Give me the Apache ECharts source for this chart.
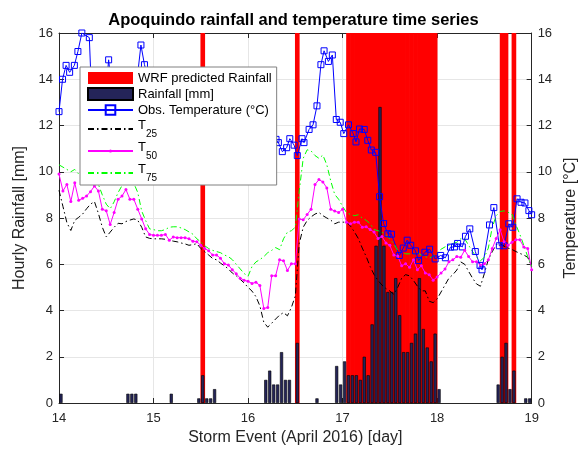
<!DOCTYPE html>
<html><head><meta charset="utf-8">
<script src="https://cdn.jsdelivr.net/npm/echarts@6/dist/echarts.min.js"></script>
<style>html,body{margin:0;padding:0;background:#fff}#c{width:587px;height:451px}</style>
</head><body><div id="c"></div>
<script>
// ---- data ----
const dayStart = 14, dayEnd = 19;
const yMax = 16;
// hourly rainfall [mm], one value per hour starting 14 April 00:00
const rainHourly = [
  0.4,0,0,0,0,0,0,0,0,0,0,0,0,0,0,0,0,0.4,0.4,0.4,0,0,0,0,
  0,0,0,0,0.4,0,0,0,0,0,0,0.2,1.2,0.2,0.2,0.6,0,0,0,0,0,0,0,0,
  0,0,0,0,1.0,1.4,0.8,0.8,2.2,1.0,1.0,0,2.6,0,0,0,0,0.2,0,0,0,0,1.6,0.8,
  1.8,1.2,1.2,1.2,1.0,2.0,1.2,3.4,6.8,12.8,6.8,4.8,4.8,5.4,3.8,2.2,2.2,2.6,3.0,5.4,3.2,2.4,1.8,3.0,
  0.6,0,0,0,0,0,0,0,0,0,0,0,0,0,0,0.8,2.0,2.6,0.6,1.4,0,0,0.2,0.2
];
// hours (from 14 April 00:00) with WRF predicted rainfall
const wrfHours = [36, 60, 73,74,75,76,77,78,79,80,81,82,83,84,85,86,87,88,89,90,91,92,93,94,95, 112, 113, 115];
// temperature quantiles, hourly from 14 April 00:00 to 19 April 00:00
const t25 = [
  9.2,8.5,7.8,7.46,7.9,8.03,8.17,8.4,8.6,8.71,8.2,7.6,7.18,7.39,7.6,7.77,7.75,7.85,7.91,7.96,7.9,7.6,7.18,7.12,
  7.1,7.1,7.1,7.08,7.04,7.0,6.97,6.92,6.88,6.82,6.85,6.89,6.68,6.54,6.4,6.25,6.19,6.05,5.93,5.8,5.62,5.5,5.35,5.19,
  5.0,4.84,4.6,4.2,3.49,3.28,3.45,3.63,3.8,3.91,3.77,4.13,4.63,6.89,7.6,7.89,8.05,8.17,8.24,8.1,8.0,7.91,7.75,7.82,
  7.82,7.82,7.65,7.4,7.11,6.7,6.33,5.9,5.55,5.3,5.1,4.95,4.84,4.7,5.0,5.4,5.55,5.5,5.3,5.05,4.85,4.85,4.4,4.34,
  4.5,4.8,5.1,5.4,5.55,5.75,6.1,6.0,5.69,5.4,5.15,5.05,5.6,6.2,6.54,6.85,6.89,6.78,6.7,6.64,6.55,6.47,6.4,6.3,
  5.9
];
const t50 = [
  9.9,9.17,9.45,8.71,9.52,8.77,8.85,8.95,9.14,9.38,9.17,8.38,8.31,7.72,8.24,8.81,8.95,9.23,8.81,8.81,8.38,7.96,7.53,7.29,
  7.25,7.25,7.25,7.29,7.04,7.18,7.15,7.15,7.15,7.1,7.0,6.97,6.82,6.68,6.58,6.4,6.4,6.26,6.02,5.97,5.76,5.59,5.4,5.31,
  5.26,5.17,5.22,5.08,4.09,4.13,5.5,5.5,6.19,6.15,5.73,6.02,6.02,7.96,7.92,8.15,8.38,9.45,9.66,9.56,9.3,8.38,8.3,8.24,
  8.38,7.82,7.75,7.82,7.82,7.6,7.62,7.5,7.39,7.11,7.2,6.92,6.82,6.4,6.36,5.93,6.02,5.87,6.19,5.76,5.93,5.62,5.55,5.31,
  5.45,5.62,5.79,6.11,6.19,6.33,6.3,6.61,6.33,6.11,6.11,5.97,6.02,6.19,6.68,7.11,7.49,6.97,6.82,6.95,7.06,7.06,6.75,6.68,
  5.76
];
const t75 = [
  10.3,10.2,10.1,10.0,10.1,9.9,9.9,9.8,9.7,9.7,9.45,9.0,8.6,8.4,8.7,9.1,9.4,9.6,9.7,9.5,9.1,8.3,7.89,7.53,
  7.5,7.45,7.45,7.5,7.6,7.62,7.62,7.57,7.5,7.4,7.3,7.1,6.97,6.8,6.68,6.6,6.55,6.5,6.4,6.33,6.2,6.0,5.8,5.6,
  5.48,5.9,6.1,6.2,6.33,6.5,6.6,6.72,6.63,7.1,7.39,7.45,7.6,9.17,10.58,10.95,10.9,10.7,10.58,10.72,10.3,9.6,9.02,8.81,
  8.5,8.24,8.15,8.1,8.14,8.0,7.9,7.75,7.5,7.45,7.39,7.25,7.1,6.89,6.6,6.5,6.45,6.45,6.45,6.5,6.4,6.33,6.26,6.35,
  6.5,6.65,6.75,6.82,6.9,6.95,7.1,7.1,6.82,6.55,6.3,6.15,6.3,6.7,7.6,8.1,8.28,8.31,8.25,8.17,7.7,7.3,6.82,6.33,
  5.9
];
// observed temperature: time (hours from 14 April 00:00) and value [°C]
const obsHour = [
  0,0.9,1.8,2.7,3.9,4.8,5.8,7.7,8.7,9.7,10.7,11.7,12.6,13.6,14.6,15.6,16.6,17.6,18.6,19.7,20.8,21.7,
  23,24,25,26,27,28,29,30,31,32,33,34,35,36,37,38,39,40,41,42,43,44,45,46,47,48,49,50,51,52,53,54,
  55.1,55.7,56.7,57.8,58.6,59.7,60.5,61.7,62.2,63.5,64.5,65.5,66.5,67.3,68.4,69.4,70.4,71.4,72.3,73.5,
  74.7,75.4,76.3,77.5,78.4,79.3,80.4,81.4,82.4,83.5,84.4,86.4,87.4,88.4,89.3,90.5,91.3,92.9,94.1,95.5,
  96.9,98.1,99.4,100.4,101.2,102.4,103.2,104.3,105.7,106.9,107.4,109.3,110.4,111.8,113.0,114.2,115.2,
  116.3,117.3,118.3,119.3,120.0
];
const obsTemp = [
  12.6,14.0,14.6,14.3,14.6,15.2,16.0,15.8,11.5,12.0,12.4,13.0,14.84,13.2,12.8,12.6,12.7,13.0,13.4,13.8,15.48,14.63,
  13.8,13.2,12.9,12.6,12.4,12.3,12.5,12.8,13.1,13.4,13.6,13.7,13.5,13.3,13.0,12.8,12.5,12.2,12.0,11.8,11.6,11.5,11.4,11.3,11.2,11.1,11.0,11.0,11.1,11.2,11.3,11.4,
  11.4,11.26,10.87,11.04,11.43,11.15,10.7,11.43,11.26,11.83,12.03,12.85,14.63,15.23,14.77,15.05,12.26,12.14,11.65,12.03,
  11.65,11.29,11.85,11.83,11.36,10.94,10.84,8.92,7.76,7.32,7.3,6.38,6.7,7.04,6.82,6.58,6.16,6.52,6.65,6.23,
  6.38,6.28,6.74,6.75,6.9,6.75,7.21,7.53,6.55,5.95,5.76,7.7,8.45,6.8,6.8,7.75,7.6,
  8.83,8.68,8.65,8.32,8.14
];
const xTicks = [14, 15, 16, 17, 18, 19];
const yTicks = [0, 2, 4, 6, 8, 10, 12, 14, 16];

// ---- build ----
const FONT = '"Liberation Sans", Arial, Helvetica, sans-serif';
const AX = '#262626';
const hours = rainHourly.map((v, i) => i);
const toDay = h => dayStart + h / 24;
const rainData = rainHourly.map(v => v > 0 ? v : '-');
const wrfData = hours.map(h => wrfHours.indexOf(h) >= 0 ? yMax : '-');
const hourlyPairs = arr => arr.map((v, i) => [toDay(i), v]);
const obsData = obsHour.map((h, i) => [toDay(h), obsTemp[i]]);
// small point marker: a dot inside a larger transparent box
const DOT = 'path://M-3,-3M3,3M1,0A1,1,0,1,1,-1,0A1,1,0,1,1,1,0Z';
const noMarker = {color: 'rgba(0,0,0,0)', borderColor: 'rgba(0,0,0,0)', borderWidth: 0};

const chart = echarts.init(document.getElementById('c'), null, {renderer: 'canvas'});
const valueY = (pos, name, gap, split) => ({
  type: 'value', position: pos, min: yTicks[0], max: yTicks[yTicks.length - 1], interval: yTicks[1] - yTicks[0],
  name: name, nameLocation: 'middle', nameGap: gap, nameRotate: 90,
  nameTextStyle: {fontFamily: FONT, fontSize: 16, color: AX},
  axisLine: {show: true, lineStyle: {color: AX, width: 1}},
  axisTick: {show: true, inside: true, length: 5, lineStyle: {color: AX}},
  axisLabel: {fontFamily: FONT, fontSize: 13, color: AX, margin: 6},
  splitLine: {show: split, lineStyle: {color: '#e6e6e6', width: 1}}
});
const option = {
  animation: false,
  backgroundColor: '#fff',
  title: {
    text: 'Apoquindo rainfall and temperature time series',
    left: 'center', top: 7,
    textStyle: {fontFamily: FONT, fontSize: 16.5, fontWeight: 'bold', color: '#000'}
  },
  grid: {left: 59, right: 54, top: 33, bottom: 43, containLabel: false},
  legend: {
    orient: 'vertical', left: 80, top: 67,
    padding: [4, 5, 2, 7], itemGap: 2, itemWidth: 45, itemHeight: 12,
    backgroundColor: '#fff', borderColor: '#808080', borderWidth: 1,
    selectedMode: false,
    textStyle: {fontFamily: FONT, fontSize: 13, lineHeight: 14, color: '#000',
      rich: {
        t: {fontFamily: FONT, fontSize: 13, lineHeight: 13, padding: [0, 0, 7, 0], color: '#000'},
        s: {fontFamily: FONT, fontSize: 10, lineHeight: 10, padding: [10, 0, 0, 0], color: '#000'}
      }},
    formatter: n => /^T\d+$/.test(n) ? '{t|T}{s|' + n.slice(1) + '}' : n,
    data: [
      {name: 'WRF predicted Rainfall', icon: 'rect'},
      {name: 'Rainfall [mm]', icon: 'rect'},
      {name: 'Obs. Temperature (°C)'},
      {name: 'T25', itemStyle: noMarker}, {name: 'T50'}, {name: 'T75', itemStyle: noMarker}
    ]
  },
  xAxis: [
    {type: 'value', position: 'bottom', min: dayStart, max: dayEnd, interval: 1,
     name: 'Storm Event (April 2016) [day]', nameLocation: 'middle', nameGap: 27,
     nameTextStyle: {fontFamily: FONT, fontSize: 16, color: AX},
     axisLine: {show: true, lineStyle: {color: AX, width: 1}},
     axisTick: {show: true, inside: true, length: 5, lineStyle: {color: AX}},
     axisLabel: {fontFamily: FONT, fontSize: 13, color: AX, margin: 9},
     splitLine: {show: true, lineStyle: {color: '#e6e6e6', width: 1}}},
    {type: 'category', position: 'bottom', data: hours, boundaryGap: true, show: false},
    {type: 'category', position: 'bottom', data: hours, boundaryGap: true, show: false},
    {type: 'value', position: 'top', min: dayStart, max: dayEnd, interval: 1,
     axisLine: {show: true, lineStyle: {color: AX, width: 1}},
     axisTick: {show: true, inside: true, length: 5, lineStyle: {color: AX}},
     axisLabel: {show: false}, splitLine: {show: false}}
  ],
  yAxis: [
    valueY('left', 'Hourly Rainfall [mm]', 27, true),
    valueY('right', 'Temperature [°C]', 29, false)
  ],
  series: [
    {name: 'WRF predicted Rainfall', type: 'bar', xAxisIndex: 1, yAxisIndex: 0,
     barWidth: '118%', data: wrfData,
     itemStyle: {color: '#ff0000'}},
    {name: 'Rainfall [mm]', type: 'bar', xAxisIndex: 2, yAxisIndex: 0,
     barWidth: '80%', data: rainData,
     itemStyle: {color: '#242459', borderColor: '#000', borderWidth: 0.6}},
    {name: 'Obs. Temperature (°C)', type: 'line', xAxisIndex: 0, yAxisIndex: 1,
     data: obsData, symbol: 'rect', symbolSize: 6, showAllSymbol: true,
     lineStyle: {color: '#0000ff', width: 1},
     itemStyle: {color: 'rgba(0,0,0,0)', borderColor: '#0000ff', borderWidth: 1}},
    {name: 'T25', type: 'line', xAxisIndex: 0, yAxisIndex: 1,
     data: hourlyPairs(t25), symbol: 'none',
     lineStyle: {color: '#000000', width: 1, type: [6, 3, 1.5, 3]}, itemStyle: {color: '#000000'}},
    {name: 'T50', type: 'line', xAxisIndex: 0, yAxisIndex: 1,
     data: hourlyPairs(t50), symbol: DOT, symbolSize: 9, showAllSymbol: true,
     lineStyle: {color: '#ff00ff', width: 1}, itemStyle: {color: '#ff00ff'}},
    {name: 'T75', type: 'line', xAxisIndex: 0, yAxisIndex: 1,
     data: hourlyPairs(t75), symbol: 'none',
     lineStyle: {color: '#00ff00', width: 1, type: [6, 3, 1.5, 3]}, itemStyle: {color: '#00ff00'}}
  ]
};
chart.setOption(option);
</script>
</body></html>
